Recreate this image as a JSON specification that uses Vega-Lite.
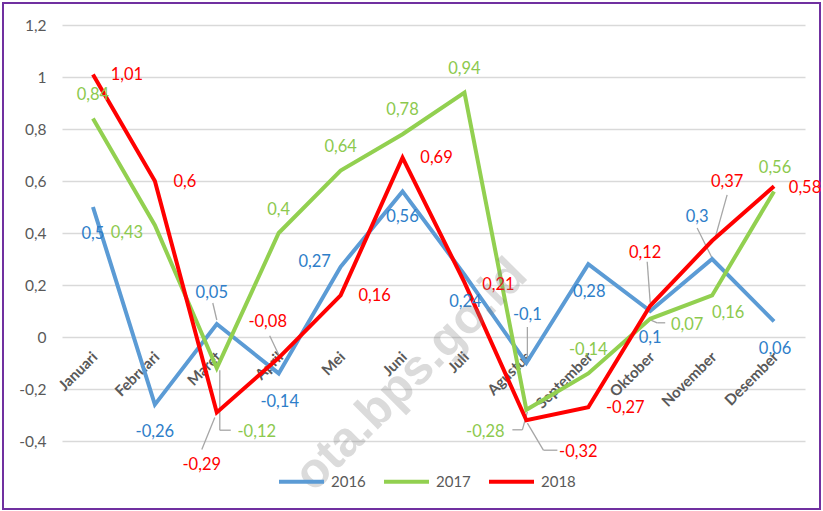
{
  "$schema": "https://vega.github.io/schema/vega-lite/v6.json",
  "width": 817,
  "height": 506,
  "autosize": "none",
  "padding": {"left": 3, "top": 3, "right": 3, "bottom": 2},
  "config": {
    "locale": {"number": {"decimal": ",", "thousands": ".", "grouping": [3], "currency": ["", ""], "minus": "-"}},
    "view": {"stroke": "#7030A0", "strokeWidth": 2},
    "font": "Lato"
  },
  "data": {
    "values": [
      {"bulan": "Januari", "tahun": "2016", "nilai": 0.5},
      {"bulan": "Februari", "tahun": "2016", "nilai": -0.26},
      {"bulan": "Maret", "tahun": "2016", "nilai": 0.05},
      {"bulan": "April", "tahun": "2016", "nilai": -0.14},
      {"bulan": "Mei", "tahun": "2016", "nilai": 0.27},
      {"bulan": "Juni", "tahun": "2016", "nilai": 0.56},
      {"bulan": "Juli", "tahun": "2016", "nilai": 0.24},
      {"bulan": "Agustus", "tahun": "2016", "nilai": -0.1},
      {"bulan": "September", "tahun": "2016", "nilai": 0.28},
      {"bulan": "Oktober", "tahun": "2016", "nilai": 0.1},
      {"bulan": "November", "tahun": "2016", "nilai": 0.3},
      {"bulan": "Desember", "tahun": "2016", "nilai": 0.06},
      {"bulan": "Januari", "tahun": "2017", "nilai": 0.84},
      {"bulan": "Februari", "tahun": "2017", "nilai": 0.43},
      {"bulan": "Maret", "tahun": "2017", "nilai": -0.12},
      {"bulan": "April", "tahun": "2017", "nilai": 0.4},
      {"bulan": "Mei", "tahun": "2017", "nilai": 0.64},
      {"bulan": "Juni", "tahun": "2017", "nilai": 0.78},
      {"bulan": "Juli", "tahun": "2017", "nilai": 0.94},
      {"bulan": "Agustus", "tahun": "2017", "nilai": -0.28},
      {"bulan": "September", "tahun": "2017", "nilai": -0.14},
      {"bulan": "Oktober", "tahun": "2017", "nilai": 0.07},
      {"bulan": "November", "tahun": "2017", "nilai": 0.16},
      {"bulan": "Desember", "tahun": "2017", "nilai": 0.56},
      {"bulan": "Januari", "tahun": "2018", "nilai": 1.01},
      {"bulan": "Februari", "tahun": "2018", "nilai": 0.6},
      {"bulan": "Maret", "tahun": "2018", "nilai": -0.29},
      {"bulan": "April", "tahun": "2018", "nilai": -0.08},
      {"bulan": "Mei", "tahun": "2018", "nilai": 0.16},
      {"bulan": "Juni", "tahun": "2018", "nilai": 0.69},
      {"bulan": "Juli", "tahun": "2018", "nilai": 0.21},
      {"bulan": "Agustus", "tahun": "2018", "nilai": -0.32},
      {"bulan": "September", "tahun": "2018", "nilai": -0.27},
      {"bulan": "Oktober", "tahun": "2018", "nilai": 0.12},
      {"bulan": "November", "tahun": "2018", "nilai": 0.37},
      {"bulan": "Desember", "tahun": "2018", "nilai": 0.58}
    ]
  },
  "encoding": {
    "x": {
      "field": "bulan",
      "type": "nominal",
      "sort": ["Januari", "Februari", "Maret", "April", "Mei", "Juni", "Juli", "Agustus", "September", "Oktober", "November", "Desember"],
      "bandPosition": 0.5,
      "scale": {"type": "band", "range": [59, 802], "paddingInner": 0, "paddingOuter": 0},
      "axis": {
        "orient": "bottom",
        "offset": -172,
        "title": null,
        "labelAngle": -45,
        "labelFontWeight": "bold",
        "labelFontSize": 15,
        "labelColor": "#595959",
        "labelPadding": 12,
        "labelOffset": -3,
        "domain": false,
        "ticks": false,
        "grid": false
      }
    },
    "y": {
      "field": "nilai",
      "type": "quantitative",
      "scale": {"domain": [-0.4, 1.2], "range": [438, 22], "nice": false, "zero": false},
      "axis": {
        "orient": "left",
        "offset": -47,
        "title": null,
        "values": [-0.4, -0.2, 0, 0.2, 0.4, 0.6, 0.8, 1, 1.2],
        "format": "~g",
        "labelFontSize": 15.5,
        "labelColor": "#595959",
        "labelPadding": 4,
        "domain": false,
        "ticks": false,
        "grid": true,
        "gridColor": "#D9D9D9",
        "gridWidth": 1.5
      }
    }
  },
  "layer": [
    {
      "transform": [{"filter": "indexof(['2016Maret','2018April','2017Maret','2018Maret','2016Agustus','2017Agustus','2018Agustus','2018Oktober','2017Oktober','2016November','2018November'], datum.tahun + datum.bulan) >= 0"}],
      "mark": {
        "type": "rule",
        "color": "#A6A6A6",
        "strokeWidth": 1.3,
        "xOffset": {"expr": "[0,0,3,-2,1,1,1,0,0,0,3][indexof(['2016Maret','2018April','2017Maret','2018Maret','2016Agustus','2017Agustus','2018Agustus','2018Oktober','2017Oktober','2016November','2018November'], datum.tahun + datum.bulan)]"},
        "yOffset": {"expr": "[-4,-3,2,5,-3,2,3,-3,1,-1,-3][indexof(['2016Maret','2018April','2017Maret','2018Maret','2016Agustus','2017Agustus','2018Agustus','2018Oktober','2017Oktober','2016November','2018November'], datum.tahun + datum.bulan)]"},
        "x2Offset": {"expr": "[-4,-9,3,-15,1,-4,17,-3,7,-15,15][indexof(['2016Maret','2018April','2017Maret','2018Maret','2016Agustus','2017Agustus','2018Agustus','2018Oktober','2017Oktober','2016November','2018November'], datum.tahun + datum.bulan)]"},
        "y2Offset": {"expr": "[-21,-22,62,37,-36,20,30,-44,4,-31,-46][indexof(['2016Maret','2018April','2017Maret','2018Maret','2016Agustus','2017Agustus','2018Agustus','2018Oktober','2017Oktober','2016November','2018November'], datum.tahun + datum.bulan)]"}
      },
      "encoding": {
        "x2": {"field": "bulan"},
        "y2": {"field": "nilai"}
      }
    },
    {
      "transform": [{"filter": "indexof(['2017Maret','2017Agustus','2018Agustus','2017Oktober'], datum.tahun + datum.bulan) >= 0"}],
      "mark": {
        "type": "rule",
        "color": "#A6A6A6",
        "strokeWidth": 1.3,
        "xOffset": {"expr": "[3,-4,17,7][indexof(['2017Maret','2017Agustus','2018Agustus','2017Oktober'], datum.tahun + datum.bulan)]"},
        "yOffset": {"expr": "[62,20,30,4][indexof(['2017Maret','2017Agustus','2018Agustus','2017Oktober'], datum.tahun + datum.bulan)]"},
        "x2Offset": {"expr": "[14,-14,31,15][indexof(['2017Maret','2017Agustus','2018Agustus','2017Oktober'], datum.tahun + datum.bulan)]"},
        "y2Offset": {"expr": "[62,20,30,4][indexof(['2017Maret','2017Agustus','2018Agustus','2017Oktober'], datum.tahun + datum.bulan)]"}
      },
      "encoding": {
        "x2": {"field": "bulan"},
        "y2": {"field": "nilai"}
      }
    },
    {
      "mark": {"type": "line", "strokeWidth": 4},
      "encoding": {
        "color": {
          "field": "tahun",
          "type": "nominal",
          "scale": {"domain": ["2016", "2017", "2018"], "range": ["#5B9BD5", "#92D050", "#FF0000"]},
          "legend": {
            "orient": "none",
            "legendX": 274,
            "legendY": 454,
            "direction": "horizontal",
            "title": null,
            "symbolType": "stroke",
            "symbolSize": 2025,
            "symbolStrokeWidth": 4,
            "labelFontSize": 15,
            "labelColor": "#595959",
            "labelOffset": 5,
            "columnPadding": 10
          }
        }
      }
    },
    {
      "mark": {
        "type": "text",
        "fontSize": 16.5,
        "align": "center",
        "baseline": "middle",
        "dx": {"expr": "(datum.tahun == '2016' ? [0,0,-5,1,-26,0,1,1,1,0,-15,1] : datum.tahun == '2017' ? [0,-28,40,0,0,0,0,-41,0,37,16,1] : [34,30,-15,-11,34,34,34,52,37,-5,15,31])[indexof(['Januari','Februari','Maret','April','Mei','Juni','Juli','Agustus','September','Oktober','November','Desember'], datum.bulan)]"},
        "dy": {"expr": "(datum.tahun == '2016' ? [27,27,-31,29,-5,26,27,-48,28,27,-42,28] : datum.tahun == '2017' ? [-24,8,64,-23,-24,-24,-24,22,-23,6,18,-23] : [1,1,53,-36,1,0,3,32,1,-53,-59,2])[indexof(['Januari','Februari','Maret','April','Mei','Juni','Juli','Agustus','September','Oktober','November','Desember'], datum.bulan)]"}
      },
      "encoding": {
        "text": {"field": "nilai", "type": "quantitative", "format": "~g"},
        "fill": {
          "field": "tahun",
          "type": "nominal",
          "scale": {"domain": ["2016", "2017", "2018"], "range": ["#2E7EC9", "#8CC94E", "#FF0000"]},
          "legend": null
        }
      }
    },
    {
      "transform": [{"filter": "datum.tahun == '2016' && datum.bulan == 'Juni'"}],
      "mark": {"type": "text", "angle": -45, "fontSize": 49, "fontWeight": "bold", "font": "Liberation Sans", "color": "#7F7F7F", "opacity": 0.28, "align": "center", "baseline": "middle", "dx": 16, "dy": -4},
      "encoding": {
        "y": {"datum": -0.2},
        "text": {"value": "ota.bps.go.id"}
      }
    }
  ]
}
